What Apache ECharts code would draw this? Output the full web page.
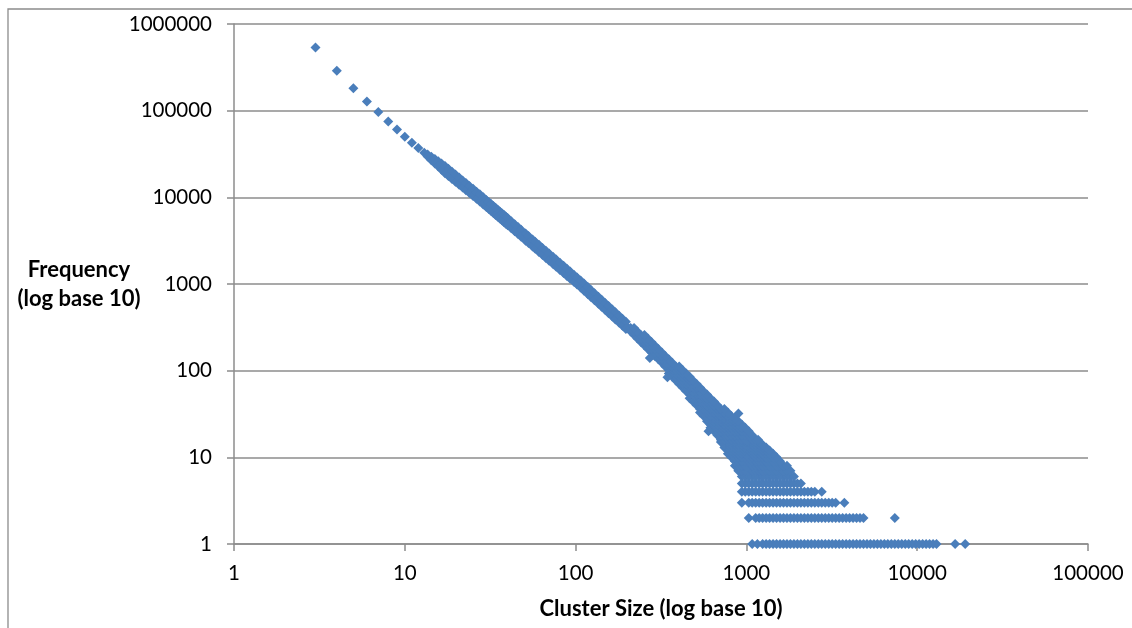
<!DOCTYPE html>
<html><head><meta charset="utf-8">
<script src="https://cdn.jsdelivr.net/npm/echarts@6/dist/echarts.min.js"></script>
<style>html,body{margin:0;padding:0;background:#fff}#c{width:1132px;height:628px}</style>
</head><body><div id="c"></div>
<script>
// Axis ticks and their labels
const xTicks = [1, 10, 100, 1000, 10000, 100000];
const xTickLabels = ['1', '10', '100', '1000', '10000', '100000'];
const yTicks = [1, 10, 100, 1000, 10000, 100000, 1000000];
const yTickLabels = ['1', '10', '100', '1000', '10000', '100000', '1000000'];

// Upper, single-valued part of the distribution (cluster size -> frequency)
const curveSize = [3,4,5,6,7,8,9,10,11,12,13,13.6,14.3,15,15.7,16.4,17.2,18,18.9,19.8,20.8,21.8,22.8,23.9,25.1,26.3,27.5,28.8,30,31,32,33,34,35,36,37,38,39,40,42,44,46,48,51,53,56,58,61,64,67,70,74,77,81,85,89,93,98,102,107,112,118,123,129,136,142,149,156,164,171,180,188,197];
const curveFreq = [534000,288000,182000,128000,96400,75000,60700,50000,42700,37000,32620,30350,28010,25940,24120,22490,20840,19380,17920,16630,15370,14260,13280,12310,11380,10560,9835,9095,8495,8036,7621,7236,6879,6553,6250,5968,5706,5462,5233,4824,4459,4136,3851,3477,3260,2971,2801,2573,2373,2197,2040,1859,1739,1596,1472,1362,1265,1158,1083,1000,919,837,777,713,648,600,550,507,463,429,391,362,333];

// Points lying just above / below that curve (the band has some width)
const spreadSize = [13.6,14.3,15,15.7,16.4,17.2,18,18.9,19.8,20.8,21.8,22.8,23.9,25.1,26.3,27.5,28.8,30,31,32,33,34,35,36,37,38,39,40,42,44,46,48,51,53,56,58,61,64,67,70,74,77,81,85,89,93,98,102,107,112,118,123,129,136,142,149,156,164,171,180,188,197];
const upperFreq = [31200,29300,27700,26000,24500,22920,21320,19710,18290,16910,15690,14610,13540,12520,11620,10820,10000,9345,8840,8383,7960,7567,7208,6875,6565,6277,6008,5756,5306,4905,4550,4236,3825,3586,3268,3081,2830,2610,2417,2244,2045,1913,1756,1619,1498,1392,1274,1191,1100,1011,921,855,784,713,660,605,558,509,472,430,398,366];
const lowerFreq = [29500,26800,24600,22700,20800,18960,17640,16310,15130,13990,12980,12080,11200,10360,9610,8950,8276,7730,7313,6935,6585,6260,5963,5688,5431,5192,4970,4762,4390,4058,3764,3504,3164,2967,2704,2549,2341,2159,1999,1856,1692,1582,1452,1340,1239,1151,1054,986,910,836,762,707,649,590,546,501,461,421,390,356,329,303];

// Scattered lower part: for each frequency, the cluster sizes observed with it
const bandFreq = [1,2,3,4,5,6,7,8,9,10,11,12,13,14,15,16,18,20,22,24,26,28,30,33,36,40,44,48,53,58,64,70,77,85,93,102,112,123,135,148,162,178,195,214,235,258,283,310];
const bandSizes = [
 [1081,1160,1245,1305,1367,1433,1502,1574,1649,1728,1811,1898,1989,2085,2185,2290,2400,2515,2636,2762,2895,3034,3179,3332,3492,3659,3835,4019,4212,4414,4626,4848,5081,5325,5580,5848,6129,6423,6731,7054,7393,7748,8120,8509,8918,9346,9795,10265,10757,11274,11815,12382,12977,16680,19090],
 [1032,1133,1188,1245,1305,1367,1433,1502,1574,1649,1728,1811,1898,1989,2085,2185,2290,2400,2515,2636,2762,2895,3034,3179,3332,3492,3659,3835,4019,4212,4414,4626,4848,7393],
 [940,1032,1081,1133,1188,1245,1305,1367,1433,1502,1574,1649,1728,1811,1898,1989,2085,2185,2290,2400,2515,2636,2762,2895,3034,3179,3332,3745],
 [940,985,1032,1081,1133,1188,1245,1305,1367,1433,1502,1574,1649,1728,1811,1898,1989,2085,2185,2290,2400,2515,2762],
 [940,985,1032,1081,1133,1188,1245,1305,1367,1433,1502,1574,1649,1728,1811,1898,1989,2085],
 [940,985,1032,1081,1133,1188,1245,1305,1367,1433,1502,1574,1649,1728,1811,1898],
 [897,940,985,1032,1081,1133,1188,1245,1305,1367,1433,1502,1574,1649,1728,1811],
 [856,897,940,985,1032,1081,1133,1188,1245,1305,1367,1433,1502,1574,1649,1728],
 [856,897,940,985,1032,1081,1133,1188,1245,1305,1367,1433,1502,1574],
 [816,856,897,940,985,1032,1081,1133,1188,1245,1305,1367,1433,1502],
 [779,816,856,897,940,985,1032,1081,1133,1188,1245,1305,1367,1433],
 [779,816,856,897,940,985,1032,1081,1133,1188,1245,1305,1367],
 [743,779,816,856,897,940,985,1032,1081,1133,1188,1245,1305],
 [743,779,816,856,897,940,985,1032,1081,1133,1188,1245],
 [709,743,779,816,856,897,940,985,1032,1081,1133,1188],
 [709,743,779,816,856,897,940,985,1032,1081,1133],
 [677,709,743,779,816,856,897,940,985,1032,1081],
 [646,677,709,743,779,816,856,897,940,985,1032],
 [616,646,677,709,743,779,816,856,897,940,985],
 [616,646,677,709,743,779,816,856,897,940],
 [588,616,646,677,709,743,779,816,856,897],
 [588,616,646,677,709,743,779,816,856],
 [561,588,616,646,677,709,743,779,816],
 [535,561,588,616,646,677,709,743,779],
 [535,561,588,616,646,677,709,743],
 [511,535,561,588,616,646,677],
 [487,511,535,561,588,616,646],
 [465,487,511,535,561,588,616],
 [465,487,511,535,561,588],
 [444,465,487,511,535,561],
 [423,444,465,487,511,535],
 [404,423,444,465,487,511],
 [386,404,423,444,465,487],
 [368,386,404,423,444,465],
 [351,368,386,404,423,444],
 [351,368,386,404,423],
 [335,351,368,386,404],
 [320,335,351,368],
 [305,320,335,351],
 [291,305,320,335],
 [278,291,305,320],
 [265,278,291,305],
 [253,265,278,291],
 [241,253,265,278],
 [230,241,253,265],
 [220,230,241,253],
 [210,220,230],
 [200,210,220]
];

// Isolated points sticking out of the band
const extraSize = [898, 1170, 600, 272, 345];
const extraFreq = [32, 16, 20, 140, 84];

const points = [];
curveSize.forEach((x, i) => points.push([x, curveFreq[i]]));
spreadSize.forEach((x, i) => { points.push([x, upperFreq[i]]); points.push([x, lowerFreq[i]]); });
bandFreq.forEach((f, i) => bandSizes[i].forEach(x => points.push([x, f])));
extraSize.forEach((x, i) => points.push([x, extraFreq[i]]));

function tickLabel(ticks, labels) {
  return function (v) {
    const i = ticks.findIndex(t => Math.abs(Math.log10(t) - Math.log10(v)) < 1e-6);
    return i >= 0 ? labels[i] : '';
  };
}

const FONT = 'Lato';
const GRID_COLOR = '#8c8c8c';
const chart = echarts.init(document.getElementById('c'), null, {renderer: 'canvas'});
chart.setOption({
  animation: false,
  backgroundColor: '#ffffff',
  graphic: [{
    type: 'rect', silent: true, z: -10,
    shape: {x: 8, y: 9, width: 1400, height: 900},
    style: {fill: 'none', stroke: GRID_COLOR, lineWidth: 1.3}
  }],
  grid: {left: 234, right: 44, top: 24, bottom: 84},
  xAxis: {
    type: 'log', logBase: 10, min: 1, max: 100000, splitNumber: 5,
    name: 'Cluster Size (log base 10)', nameLocation: 'middle', nameGap: 65, nameMoveOverlap: false,
    nameTextStyle: {fontFamily: FONT, fontWeight: 'bold', fontSize: 22, color: '#000', verticalAlign: 'middle'},
    axisLine: {show: true, lineStyle: {color: GRID_COLOR, width: 1.5}},
    axisTick: {show: true, length: 7, inside: false, lineStyle: {color: GRID_COLOR, width: 1.5}},
    minorTick: {show: false},
    splitLine: {show: false},
    axisLabel: {margin: 19, fontFamily: FONT, fontSize: 20.5, color: '#000', formatter: tickLabel(xTicks, xTickLabels)}
  },
  yAxis: {
    type: 'log', logBase: 10, min: 1, max: 1000000, splitNumber: 6,
    name: 'Frequency\n(log base 10)', nameLocation: 'middle', nameRotate: 0, nameGap: 155, nameMoveOverlap: false,
    nameTextStyle: {fontFamily: FONT, fontWeight: 'bold', fontSize: 22, color: '#000', align: 'center', verticalAlign: 'middle', lineHeight: 29},
    axisLine: {show: true, lineStyle: {color: GRID_COLOR, width: 1.5}},
    axisTick: {show: true, length: 7, inside: false, lineStyle: {color: GRID_COLOR, width: 1.5}},
    minorTick: {show: false},
    splitLine: {show: true, lineStyle: {color: GRID_COLOR, width: 1.5}},
    axisLabel: {margin: 22, fontFamily: FONT, fontSize: 20.5, color: '#000', formatter: tickLabel(yTicks, yTickLabels)}
  },
  series: [{
    type: 'scatter', symbol: 'diamond', symbolSize: 10, silent: true,
    itemStyle: {color: '#4A7EBB', opacity: 1},
    data: points
  }]
});
</script>
</body></html>
